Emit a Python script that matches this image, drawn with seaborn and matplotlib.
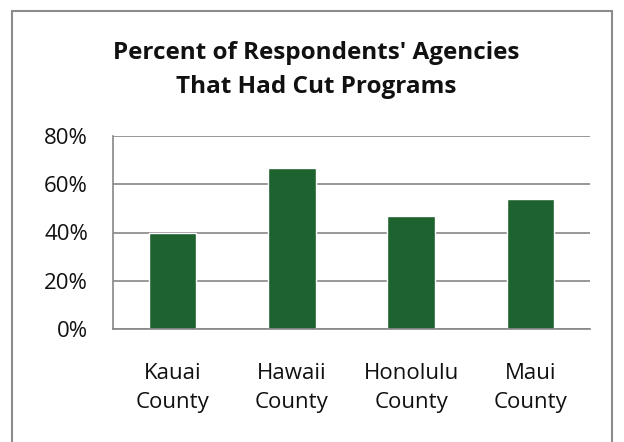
import numpy as np
import pandas as pd
import matplotlib.pyplot as plt
import matplotlib.patches as mpatches
import seaborn as sns

counties = ['Kauai\nCounty', 'Hawaii\nCounty', 'Honolulu\nCounty', 'Maui\nCounty']
pct_cut = [40.0, 66.7, 46.7, 53.8]
y_ticks = [0, 20, 40, 60, 80]

df = pd.DataFrame({'county': counties, 'pct': pct_cut})

sns.set_style('white')
plt.rcParams['font.family'] = ['Open Sans', 'DejaVu Sans']

fig = plt.figure(figsize=(6.24, 4.42), dpi=100)
ax = fig.add_axes([113 / 624, 1 - 329 / 442, 477 / 624, 193 / 442])

grid_col = '#868686'
for t in y_ticks:
    ax.axhline(t, color=grid_col, lw=1.2, zorder=0)

sns.barplot(data=df, x='county', y='pct', color='#1E6230', width=0.4,
            saturation=1, ax=ax, zorder=2)

ax.set_xlim(-0.5, len(counties) - 0.5)
ax.set_ylim(0, 80)
ax.set_yticks(y_ticks)
ax.set_yticklabels([f'{t}%' for t in y_ticks], fontsize=16, color='#111111')
ax.set_xticks(np.arange(-0.5, len(counties), 1))
ax.set_xticklabels([])
ax.set_xlabel('')
ax.set_ylabel('')
for i, c in enumerate(counties):
    ax.text(i, -14, c, ha='center', va='top', fontsize=16, color='#111111',
            linespacing=1.5, transform=ax.transData)

for s in ['top', 'right']:
    ax.spines[s].set_visible(False)
for s in ['left', 'bottom']:
    ax.spines[s].set_color(grid_col)
    ax.spines[s].set_linewidth(1.2)
ax.tick_params(axis='y', length=6, color=grid_col, width=1.2, pad=12)
ax.tick_params(axis='x', length=6, color=grid_col, width=1.2)

fig.text(316 / 624, 1 - 70 / 442, "Percent of Respondents' Agencies\nThat Had Cut Programs",
         ha='center', va='center', fontsize=17.5, fontweight='bold',
         linespacing=1.55, color='#111111')

border = mpatches.Rectangle((12 / 624, -0.05), 600 / 624, 1.05 - 11 / 442,
                            transform=fig.transFigure, fill=False,
                            edgecolor='#8c8c8c', lw=1.5, clip_on=False)
fig.patches.append(border)

fig.savefig('out.png', dpi=100)
